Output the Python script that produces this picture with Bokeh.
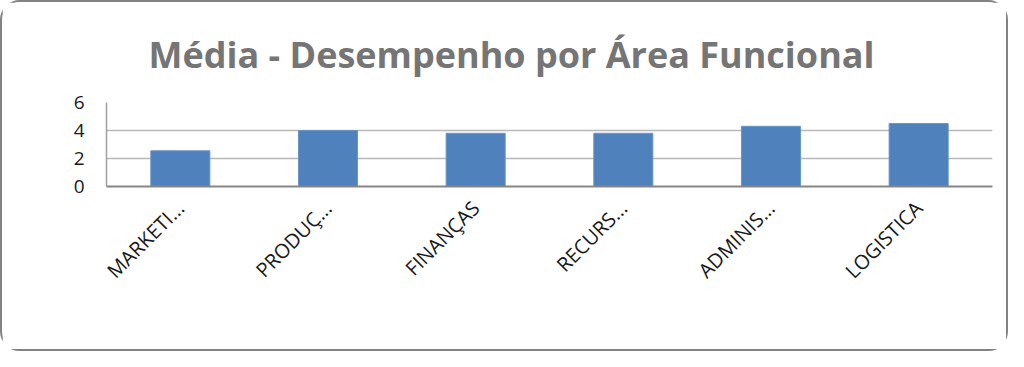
import math
from bokeh.plotting import figure
from bokeh.models import Range1d, FixedTicker
from bokeh.embed import file_html
from bokeh.resources import INLINE

title_text = "Média - Desempenho por Área Funcional"
categories = ["MARKETI...", "PRODUÇ...", "FINANÇAS", "RECURS...", "ADMINIS...", "LOGISTICA"]
values = [2.55, 4.0, 3.8, 3.8, 4.3, 4.5]
y_ticks = [0, 2, 4, 6]

p = figure(x_range=categories, width=1008, height=351, output_backend="svg",
           toolbar_location=None, title=title_text,
           min_border_left=104, min_border_right=18, min_border_top=100, min_border_bottom=167)
p.y_range = Range1d(0, 6)
p.vbar(x=categories, top=values, width=0.4, fill_color="#4f81bd", line_color="#6a95c8", line_width=1)

p.title.align = "left"
p.title.text_font = "Open Sans"
p.title.text_font_style = "bold"
p.title.text_font_size = "36px"
p.title.text_color = "#757575"
p.title.standoff = 47
p.title.offset = 42

p.yaxis.ticker = FixedTicker(ticks=y_ticks)
p.yaxis.major_label_text_font = "Open Sans"
p.yaxis.major_label_text_font_size = "19px"
p.yaxis.major_label_text_color = "#1a1a1a"
p.yaxis.major_label_standoff = 16
p.yaxis.axis_line_color = "#a0a0a0"
p.yaxis.axis_line_width = 1.5
p.yaxis.major_tick_line_color = None
p.yaxis.minor_tick_line_color = None

p.xaxis.major_label_orientation = math.pi / 4
p.xaxis.major_label_text_font = "Open Sans"
p.xaxis.major_label_text_font_size = "20px"
p.xaxis.major_label_text_color = "#1a1a1a"
p.xaxis.major_label_standoff = 12
p.xaxis.axis_line_color = "#868686"
p.xaxis.axis_line_width = 2
p.xaxis.major_tick_line_color = None
p.xaxis.minor_tick_line_color = None

p.xgrid.grid_line_color = None
p.ygrid.grid_line_color = "#b8b8b8"
p.ygrid.grid_line_width = 1.5
p.outline_line_color = None
p.styles = {"border": "2px solid #828282", "border-radius": "20px"}

open("out.html", "w").write(file_html(p, INLINE))
